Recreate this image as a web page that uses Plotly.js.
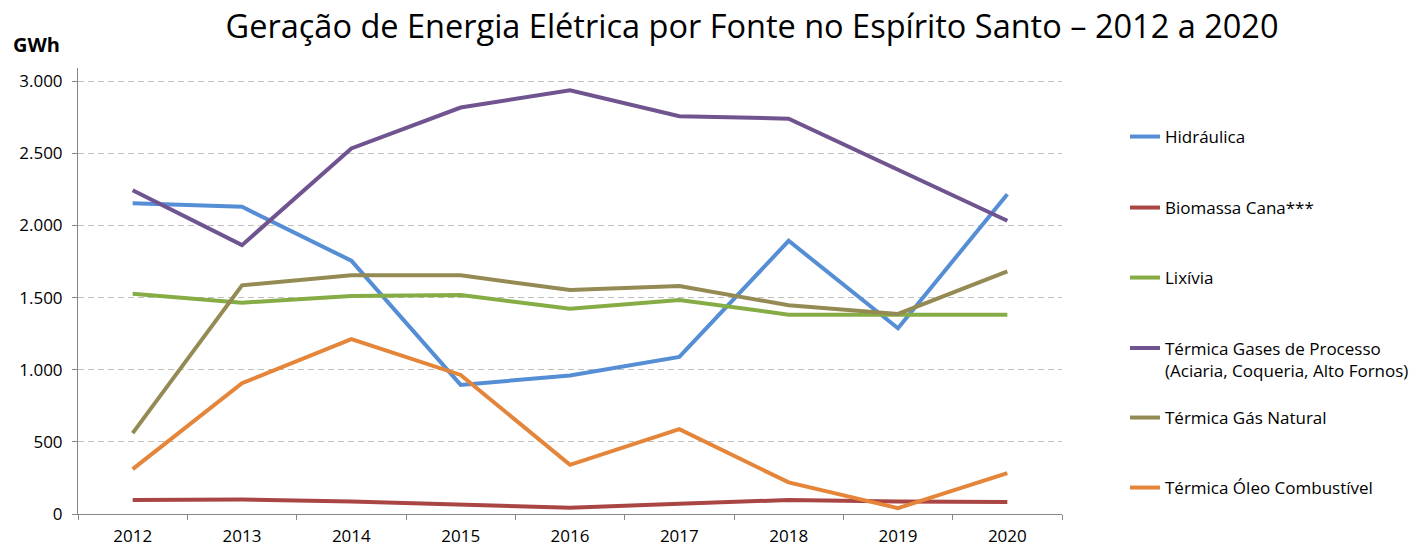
<!DOCTYPE html>
<html>
<head>
<meta charset="utf-8">
<script src="https://cdn.plot.ly/plotly-3.0.1.min.js"></script>
<style>html,body{margin:0;padding:0;background:#fff;}#chart{width:1427px;height:547px;}</style>
</head>
<body>
<div id="chart"></div>
<script>
const years = ['2012','2013','2014','2015','2016','2017','2018','2019','2020'];
const hidraulica = [2155, 2130, 1756, 895, 960, 1089, 1894, 1288, 2217];
const biomassaCana = [97, 100, 87, 67, 44, 71, 97, 87, 83];
const lixivia = [1527, 1465, 1511, 1518, 1423, 1484, 1382, 1382, 1382];
const gasesProcesso = [2245, 1864, 2534, 2818, 2937, 2757, 2741, 2390, 2033];
const gasNatural = [561, 1585, 1655, 1655, 1553, 1581, 1447, 1387, 1682];
const oleoCombustivel = [311, 907, 1212, 964, 341, 588, 219, 41, 284];

const seriesNames = ['Hidráulica', 'Biomassa Cana***', 'Lixívia',
  'Térmica Gases de Processo<br>(Aciaria, Coqueria, Alto Fornos)',
  'Térmica Gás Natural', 'Térmica Óleo Combustível'];
const seriesValues = [hidraulica, biomassaCana, lixivia, gasesProcesso, gasNatural, oleoCombustivel];
const seriesColors = ['#558ED5', '#A94543', '#86AD45', '#70548F', '#948B54', '#E4853A'];
const legendIds = ['legend', 'legend2', 'legend3', 'legend4', 'legend5', 'legend6'];
const legendCenters = [137, 208, 278, 359.5, 418, 488];

const font = 'Open Sans, Noto Sans, sans-serif';
const H = 547, TOP = 68, BOT = 514;
const toPaper = (px) => (BOT - px) / (BOT - TOP);
const traces = seriesValues.map((v, i) => ({
  x: years, y: v, name: seriesNames[i], type: 'scatter', mode: 'lines',
  legend: legendIds[i], showlegend: true,
  line: {color: seriesColors[i], width: 4}
}));

const layout = {
  width: 1427, height: H,
  showlegend: true,
  margin: {l: 78, r: 365, t: TOP, b: H - BOT},
  paper_bgcolor: '#fff', plot_bgcolor: '#fff',
  separators: ',.',
  font: {family: font, color: '#000', size: 16},
  title: {text: 'Geração de Energia Elétrica por Fonte no Espírito Santo – 2012 a 2020',
    font: {family: font, size: 32.5, color: '#000'}, x: 0.527, xanchor: 'center', y: 1 - 27 / H, yanchor: 'middle'},
  xaxis: {type: 'category', tickson: 'boundaries', ticks: 'outside', ticklen: 5, tickcolor: '#868686',
    showline: true, linecolor: '#868686', linewidth: 1, showgrid: false, zeroline: false,
    tickfont: {size: 17}, ticklabelstandoff: 7, range: [-0.5, 8.5]},
  yaxis: {range: [0, 3092], tickvals: [0, 500, 1000, 1500, 2000, 2500, 3000], tickformat: ',d',
    ticks: 'outside', ticklen: 5, tickcolor: '#868686', showline: true, linecolor: '#868686', linewidth: 1,
    showgrid: true, gridcolor: '#BFBFBF', griddash: '6px,4px', gridwidth: 1, zeroline: false,
    tickfont: {size: 17}, ticklabelstandoff: 6},
  annotations: [{text: '<b>GWh</b>', xref: 'paper', yref: 'paper', x: -0.068, y: toPaper(45),
    xanchor: 'left', yanchor: 'middle', showarrow: false, font: {size: 20}}]
};
legendIds.forEach((id, i) => {
  layout[id] = {visible: true, x: 1.064, xanchor: 'left', yref: 'paper', y: toPaper(legendCenters[i]), yanchor: 'middle',
    font: {size: 17}, valign: 'top', bgcolor: 'rgba(0,0,0,0)'};
});
Plotly.newPlot('chart', traces, layout, {displayModeBar: false});
</script>
</body>
</html>
